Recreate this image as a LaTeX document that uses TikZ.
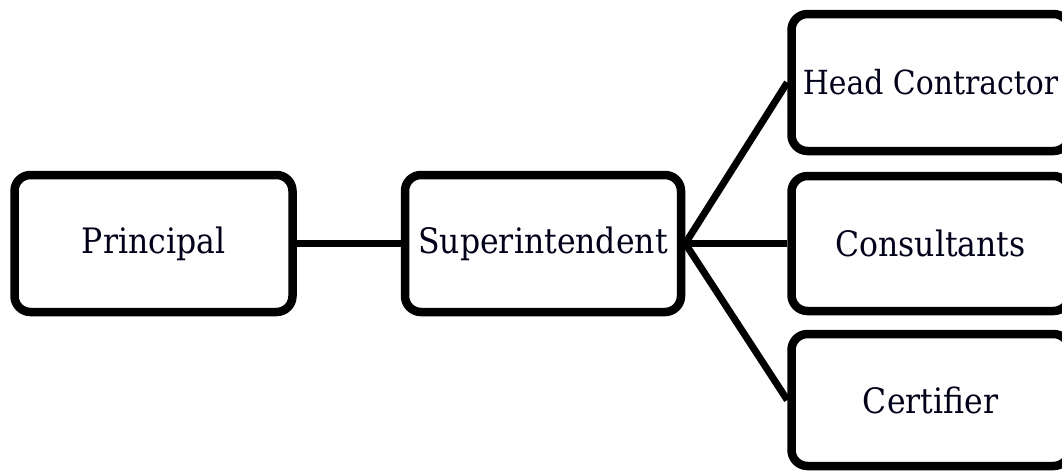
\documentclass[tikz,border=0pt]{standalone}
\usepackage{fontspec}
\setmainfont{DejaVu Serif Condensed}
\usetikzlibrary{shadows}
\begin{document}
\begin{tikzpicture}[x=1pt,y=-1pt,
  rolebox/.style={draw=black, line width=8.5pt, rounded corners=16pt, fill=white,
    minimum width=278pt, minimum height=137pt, inner sep=0pt,
    font=\fontsize{35}{40}\selectfont, text=black!90!blue,
    drop shadow={opacity=0.22, shadow xshift=1.5pt, shadow yshift=-3pt}},
  link/.style={draw=black, line width=7pt}]
  \useasboundingbox (0,0) rectangle (1062,472);
  \clip (0,0) rectangle (1062,472);
  \node[rolebox] (principal) at (153.5,243.5) {Principal};
  \node[rolebox, minimum width=276pt] (super) at (543,243.5) {Superintendent};
  \node[rolebox, font=\fontsize{33.2}{38}\selectfont] (head) at (930.5,82.5) {Head Contractor};
  \node[rolebox, minimum height=135pt] (consult) at (930.5,243.5) {Consultants};
  \node[rolebox, minimum height=132pt] (cert) at (930.5,400) {Certifier};
  \draw[link] (principal.east) -- (super.west);
  \draw[link] (super.east) -- (head.west);
  \draw[link] (super.east) -- (consult.west);
  \draw[link] (super.east) -- (cert.west);
\end{tikzpicture}
\end{document}
